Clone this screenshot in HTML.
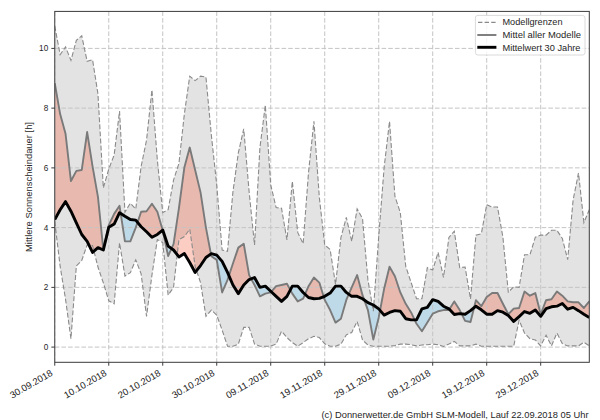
<!DOCTYPE html>
<html><head><meta charset="utf-8"><style>
html,body{margin:0;padding:0;background:#fff;width:600px;height:420px;overflow:hidden;}
svg{display:block;}
</style></head><body>
<svg width="600" height="420" viewBox="0 0 600 420"><rect x="0" y="0" width="600" height="420" fill="#ffffff"/><clipPath id="ax"><rect x="54.75" y="11.4" width="534.55" height="350.90000000000003"/></clipPath><g clip-path="url(#ax)"><polygon points="54.75,26.00 60.15,54.67 65.55,46.91 70.95,60.35 76.35,40.34 81.75,35.85 87.15,61.24 92.55,59.75 97.95,93.80 103.35,187.89 108.75,169.07 114.14,155.04 119.54,111.13 124.94,212.09 130.34,203.13 135.74,209.10 141.14,166.39 146.54,140.10 151.94,89.92 157.34,160.11 162.74,212.69 168.14,209.70 173.54,180.13 178.94,163.40 184.34,114.11 189.74,76.18 195.14,80.66 200.54,76.18 205.94,77.08 211.34,135.02 216.73,184.91 222.13,250.02 227.53,251.22 232.93,191.78 238.33,152.95 243.73,128.75 249.13,191.78 254.53,244.94 259.93,147.57 265.33,105.15 270.73,184.91 276.13,207.61 281.53,208.20 286.93,239.87 292.33,181.32 297.73,232.40 303.13,243.75 308.53,172.36 313.93,121.28 319.33,197.45 324.72,244.94 330.12,249.43 335.52,284.37 340.92,237.48 346.32,217.46 351.72,241.36 357.12,208.80 362.52,218.66 367.92,279.89 373.32,311.26 378.72,236.58 384.12,167.58 389.52,121.28 394.92,196.26 400.32,212.69 405.72,266.15 411.12,282.58 416.52,298.71 421.92,298.71 427.32,267.65 432.71,270.04 438.11,252.41 443.51,277.50 448.91,237.48 454.31,231.20 459.71,267.65 465.11,267.05 470.51,299.01 475.91,235.09 481.31,233.89 486.71,204.62 492.11,207.01 497.51,207.01 502.91,237.18 508.31,292.14 513.71,286.76 519.11,287.36 524.51,254.80 529.91,254.80 535.31,237.18 540.70,235.09 546.10,235.09 551.50,230.31 556.90,230.31 562.30,238.37 567.70,259.58 573.10,200.14 578.50,172.96 583.90,222.54 589.30,209.70 589.30,345.91 583.90,342.32 578.50,345.91 573.10,345.91 567.70,345.91 562.30,343.52 556.90,333.06 551.50,345.91 546.10,335.15 540.70,345.91 535.31,339.93 529.91,338.74 524.51,333.06 519.11,320.22 513.71,346.20 508.31,346.20 502.91,346.20 497.51,346.20 492.11,346.20 486.71,346.20 481.31,346.20 475.91,344.11 470.51,345.91 465.11,345.91 459.71,345.91 454.31,341.42 448.91,344.11 443.51,346.50 438.11,344.71 432.71,344.11 427.32,344.71 421.92,345.01 416.52,345.91 411.12,344.71 405.72,344.11 400.32,344.11 394.92,345.61 389.52,346.20 384.12,346.20 378.72,346.20 373.32,346.20 367.92,345.01 362.52,339.93 357.12,321.41 351.72,332.46 346.32,334.85 340.92,344.11 335.52,346.20 330.12,346.20 324.72,343.81 319.33,337.54 313.93,336.35 308.53,338.74 303.13,342.62 297.73,346.20 292.33,342.62 286.93,337.54 281.53,331.27 276.13,344.11 270.73,346.20 265.33,346.20 259.93,346.20 254.53,344.11 249.13,327.39 243.73,327.39 238.33,344.11 232.93,346.20 227.53,346.20 222.13,330.07 216.73,315.14 211.34,310.06 205.94,316.33 200.54,282.58 195.14,266.45 189.74,229.11 184.34,236.58 178.94,239.57 173.54,287.36 168.14,295.13 162.74,242.56 157.34,239.57 151.94,275.11 146.54,316.33 141.14,273.92 135.74,259.88 130.34,272.72 124.94,276.01 119.54,242.85 114.14,303.79 108.75,300.80 103.35,282.88 97.95,267.05 92.55,245.54 87.15,244.94 81.75,260.48 76.35,265.85 70.95,338.74 65.55,299.31 60.15,266.45 54.75,221.35" fill="#e3e3e3" stroke="none"/><polygon points="54.75,83.05 60.15,114.11 65.55,133.83 70.95,181.02 76.35,170.87 81.75,169.97 87.15,132.04 92.55,166.39 97.95,196.85 103.35,250.02 108.75,225.23 114.14,213.88 119.54,205.81 120.70,213.46 120.70,213.46 119.54,212.69 114.14,224.04 108.75,227.32 103.35,250.02 97.95,247.63 92.55,252.41 87.15,241.36 81.75,234.49 76.35,222.84 70.95,211.19 65.55,201.63 60.15,209.70 54.75,219.56" fill="rgb(246,89,56)" fill-opacity="0.3" stroke="none"/><polygon points="137.54,222.34 141.14,211.79 146.54,211.19 151.94,203.72 157.34,211.79 162.60,230.12 162.60,230.12 157.34,234.49 151.94,237.18 146.54,231.80 141.14,226.72 137.54,222.34" fill="rgb(246,89,56)" fill-opacity="0.3" stroke="none"/><polygon points="171.50,248.56 173.54,244.05 178.94,208.20 184.34,167.58 189.74,147.57 195.14,169.97 200.54,192.37 205.94,227.62 210.89,253.93 210.89,253.93 205.94,257.49 200.54,265.55 195.14,272.43 189.74,262.57 184.34,253.61 178.94,256.89 173.54,250.02 171.50,248.56" fill="rgb(246,89,56)" fill-opacity="0.3" stroke="none"/><polygon points="228.93,275.66 232.93,263.46 238.33,247.63 243.73,243.75 249.13,275.11 251.16,278.81 251.16,278.81 249.13,279.59 243.73,284.97 238.33,293.63 232.93,284.97 228.93,275.66" fill="rgb(246,89,56)" fill-opacity="0.3" stroke="none"/><polygon points="271.30,291.78 276.13,286.17 281.53,284.97 286.93,283.78 290.31,289.95 290.31,289.95 286.93,296.32 281.53,301.40 276.13,296.32 271.30,291.78" fill="rgb(246,89,56)" fill-opacity="0.3" stroke="none"/><polygon points="305.05,294.25 308.53,286.17 313.93,277.50 319.33,282.58 323.73,296.71 323.73,296.71 319.33,298.41 313.93,298.71 308.53,297.52 305.05,294.25" fill="rgb(246,89,56)" fill-opacity="0.3" stroke="none"/><polygon points="348.78,294.20 351.72,287.36 357.12,275.11 362.52,295.13 364.27,299.97 364.27,299.97 362.52,298.71 357.12,296.32 351.72,296.32 348.78,294.20" fill="rgb(246,89,56)" fill-opacity="0.3" stroke="none"/><polygon points="380.06,310.42 384.12,288.85 389.52,266.75 394.92,276.31 400.32,292.44 405.72,303.79 411.12,312.45 414.67,319.92 414.67,319.92 411.12,319.92 405.72,318.72 400.32,311.26 394.92,310.66 389.52,312.45 384.12,315.14 380.06,310.42" fill="rgb(246,89,56)" fill-opacity="0.3" stroke="none"/><polygon points="449.36,309.34 454.31,301.40 459.71,310.06 461.62,313.86 461.62,313.86 459.71,313.65 454.31,314.54 449.36,309.34" fill="rgb(246,89,56)" fill-opacity="0.3" stroke="none"/><polygon points="474.05,307.72 475.91,300.20 481.31,306.18 486.71,296.92 492.11,293.04 497.51,293.04 502.91,303.79 508.31,314.24 513.71,308.57 519.11,307.97 524.51,291.54 529.91,295.72 535.31,293.04 540.70,314.24 546.10,300.20 551.50,299.31 556.90,291.54 562.30,295.72 567.70,301.40 573.10,302.30 578.50,302.30 583.90,307.97 589.30,301.40 589.30,317.53 583.90,314.24 578.50,310.66 573.10,307.37 567.70,309.17 562.30,303.49 556.90,306.18 551.50,306.78 546.10,308.57 540.70,316.33 535.31,310.06 529.91,313.35 524.51,311.55 519.11,316.63 513.71,321.41 508.31,315.44 502.91,312.15 497.51,310.66 492.11,314.24 486.71,314.24 481.31,309.76 475.91,306.18 474.05,307.72" fill="rgb(246,89,56)" fill-opacity="0.3" stroke="none"/><polygon points="103.35,250.02 103.35,250.02 103.35,250.02 103.35,250.02 103.35,250.02 103.35,250.02" fill="rgb(106,199,246)" fill-opacity="0.3" stroke="none"/><polygon points="120.70,213.46 124.94,241.36 130.34,241.36 135.74,227.62 137.54,222.34 137.54,222.34 135.74,220.15 130.34,219.56 124.94,216.27 120.70,213.46" fill="rgb(106,199,246)" fill-opacity="0.3" stroke="none"/><polygon points="162.60,230.12 162.74,230.61 168.14,256.00 171.50,248.56 171.50,248.56 168.14,246.14 162.74,230.01 162.60,230.12" fill="rgb(106,199,246)" fill-opacity="0.3" stroke="none"/><polygon points="210.89,253.93 211.34,256.30 216.73,259.88 222.13,292.44 227.53,279.89 228.93,275.66 228.93,275.66 227.53,272.43 222.13,261.37 216.73,255.10 211.34,253.61 210.89,253.93" fill="rgb(106,199,246)" fill-opacity="0.3" stroke="none"/><polygon points="251.16,278.81 254.53,284.97 259.93,296.32 265.33,293.63 270.73,292.44 271.30,291.78 271.30,291.78 270.73,291.24 265.33,286.17 259.93,287.36 254.53,277.50 251.16,278.81" fill="rgb(106,199,246)" fill-opacity="0.3" stroke="none"/><polygon points="290.31,289.95 292.33,293.63 297.73,301.40 303.13,298.71 305.05,294.25 305.05,294.25 303.13,292.44 297.73,286.17 292.33,286.17 290.31,289.95" fill="rgb(106,199,246)" fill-opacity="0.3" stroke="none"/><polygon points="323.73,296.71 324.72,299.91 330.12,310.06 335.52,322.61 340.92,318.72 346.32,299.91 348.78,294.20 348.78,294.20 346.32,292.44 340.92,286.17 335.52,286.17 330.12,293.04 324.72,296.32 323.73,296.71" fill="rgb(106,199,246)" fill-opacity="0.3" stroke="none"/><polygon points="364.27,299.97 367.92,310.06 373.32,339.63 378.72,317.53 380.06,310.42 380.06,310.42 378.72,308.87 373.32,304.98 367.92,302.59 364.27,299.97" fill="rgb(106,199,246)" fill-opacity="0.3" stroke="none"/><polygon points="414.67,319.92 416.52,323.80 421.92,331.27 427.32,322.61 432.71,313.65 438.11,311.26 443.51,310.06 448.91,310.06 449.36,309.34 449.36,309.34 448.91,308.87 443.51,306.18 438.11,301.40 432.71,299.61 427.32,307.37 421.92,308.87 416.52,319.92 414.67,319.92" fill="rgb(106,199,246)" fill-opacity="0.3" stroke="none"/><polygon points="461.62,313.86 465.11,320.81 470.51,322.01 474.05,307.72 474.05,307.72 470.51,310.66 465.11,314.24 461.62,313.86" fill="rgb(106,199,246)" fill-opacity="0.3" stroke="none"/><g stroke="#c4c4c4" stroke-width="1" stroke-dasharray="4.6,2.07"><line x1="54.75" y1="11.4" x2="54.75" y2="362.3"/><line x1="108.75" y1="11.4" x2="108.75" y2="362.3"/><line x1="162.74" y1="11.4" x2="162.74" y2="362.3"/><line x1="216.73" y1="11.4" x2="216.73" y2="362.3"/><line x1="270.73" y1="11.4" x2="270.73" y2="362.3"/><line x1="324.72" y1="11.4" x2="324.72" y2="362.3"/><line x1="378.72" y1="11.4" x2="378.72" y2="362.3"/><line x1="432.71" y1="11.4" x2="432.71" y2="362.3"/><line x1="486.71" y1="11.4" x2="486.71" y2="362.3"/><line x1="540.70" y1="11.4" x2="540.70" y2="362.3"/><line x1="54.75" y1="347.10" x2="589.3" y2="347.10"/><line x1="54.75" y1="287.36" x2="589.3" y2="287.36"/><line x1="54.75" y1="227.62" x2="589.3" y2="227.62"/><line x1="54.75" y1="167.88" x2="589.3" y2="167.88"/><line x1="54.75" y1="108.14" x2="589.3" y2="108.14"/><line x1="54.75" y1="48.40" x2="589.3" y2="48.40"/></g><polyline points="54.75,26.00 60.15,54.67 65.55,46.91 70.95,60.35 76.35,40.34 81.75,35.85 87.15,61.24 92.55,59.75 97.95,93.80 103.35,187.89 108.75,169.07 114.14,155.04 119.54,111.13 124.94,212.09 130.34,203.13 135.74,209.10 141.14,166.39 146.54,140.10 151.94,89.92 157.34,160.11 162.74,212.69 168.14,209.70 173.54,180.13 178.94,163.40 184.34,114.11 189.74,76.18 195.14,80.66 200.54,76.18 205.94,77.08 211.34,135.02 216.73,184.91 222.13,250.02 227.53,251.22 232.93,191.78 238.33,152.95 243.73,128.75 249.13,191.78 254.53,244.94 259.93,147.57 265.33,105.15 270.73,184.91 276.13,207.61 281.53,208.20 286.93,239.87 292.33,181.32 297.73,232.40 303.13,243.75 308.53,172.36 313.93,121.28 319.33,197.45 324.72,244.94 330.12,249.43 335.52,284.37 340.92,237.48 346.32,217.46 351.72,241.36 357.12,208.80 362.52,218.66 367.92,279.89 373.32,311.26 378.72,236.58 384.12,167.58 389.52,121.28 394.92,196.26 400.32,212.69 405.72,266.15 411.12,282.58 416.52,298.71 421.92,298.71 427.32,267.65 432.71,270.04 438.11,252.41 443.51,277.50 448.91,237.48 454.31,231.20 459.71,267.65 465.11,267.05 470.51,299.01 475.91,235.09 481.31,233.89 486.71,204.62 492.11,207.01 497.51,207.01 502.91,237.18 508.31,292.14 513.71,286.76 519.11,287.36 524.51,254.80 529.91,254.80 535.31,237.18 540.70,235.09 546.10,235.09 551.50,230.31 556.90,230.31 562.30,238.37 567.70,259.58 573.10,200.14 578.50,172.96 583.90,222.54 589.30,209.70" fill="none" stroke="#8a8a8a" stroke-width="1.1" stroke-dasharray="4.9,2.2"/><polyline points="54.75,221.35 60.15,266.45 65.55,299.31 70.95,338.74 76.35,265.85 81.75,260.48 87.15,244.94 92.55,245.54 97.95,267.05 103.35,282.88 108.75,300.80 114.14,303.79 119.54,242.85 124.94,276.01 130.34,272.72 135.74,259.88 141.14,273.92 146.54,316.33 151.94,275.11 157.34,239.57 162.74,242.56 168.14,295.13 173.54,287.36 178.94,239.57 184.34,236.58 189.74,229.11 195.14,266.45 200.54,282.58 205.94,316.33 211.34,310.06 216.73,315.14 222.13,330.07 227.53,346.20 232.93,346.20 238.33,344.11 243.73,327.39 249.13,327.39 254.53,344.11 259.93,346.20 265.33,346.20 270.73,346.20 276.13,344.11 281.53,331.27 286.93,337.54 292.33,342.62 297.73,346.20 303.13,342.62 308.53,338.74 313.93,336.35 319.33,337.54 324.72,343.81 330.12,346.20 335.52,346.20 340.92,344.11 346.32,334.85 351.72,332.46 357.12,321.41 362.52,339.93 367.92,345.01 373.32,346.20 378.72,346.20 384.12,346.20 389.52,346.20 394.92,345.61 400.32,344.11 405.72,344.11 411.12,344.71 416.52,345.91 421.92,345.01 427.32,344.71 432.71,344.11 438.11,344.71 443.51,346.50 448.91,344.11 454.31,341.42 459.71,345.91 465.11,345.91 470.51,345.91 475.91,344.11 481.31,346.20 486.71,346.20 492.11,346.20 497.51,346.20 502.91,346.20 508.31,346.20 513.71,346.20 519.11,320.22 524.51,333.06 529.91,338.74 535.31,339.93 540.70,345.91 546.10,335.15 551.50,345.91 556.90,333.06 562.30,343.52 567.70,345.91 573.10,345.91 578.50,345.91 583.90,342.32 589.30,345.91" fill="none" stroke="#8a8a8a" stroke-width="1.1" stroke-dasharray="4.9,2.2"/><polyline points="54.75,83.05 60.15,114.11 65.55,133.83 70.95,181.02 76.35,170.87 81.75,169.97 87.15,132.04 92.55,166.39 97.95,196.85 103.35,250.02 108.75,225.23 114.14,213.88 119.54,205.81 124.94,241.36 130.34,241.36 135.74,227.62 141.14,211.79 146.54,211.19 151.94,203.72 157.34,211.79 162.74,230.61 168.14,256.00 173.54,244.05 178.94,208.20 184.34,167.58 189.74,147.57 195.14,169.97 200.54,192.37 205.94,227.62 211.34,256.30 216.73,259.88 222.13,292.44 227.53,279.89 232.93,263.46 238.33,247.63 243.73,243.75 249.13,275.11 254.53,284.97 259.93,296.32 265.33,293.63 270.73,292.44 276.13,286.17 281.53,284.97 286.93,283.78 292.33,293.63 297.73,301.40 303.13,298.71 308.53,286.17 313.93,277.50 319.33,282.58 324.72,299.91 330.12,310.06 335.52,322.61 340.92,318.72 346.32,299.91 351.72,287.36 357.12,275.11 362.52,295.13 367.92,310.06 373.32,339.63 378.72,317.53 384.12,288.85 389.52,266.75 394.92,276.31 400.32,292.44 405.72,303.79 411.12,312.45 416.52,323.80 421.92,331.27 427.32,322.61 432.71,313.65 438.11,311.26 443.51,310.06 448.91,310.06 454.31,301.40 459.71,310.06 465.11,320.81 470.51,322.01 475.91,300.20 481.31,306.18 486.71,296.92 492.11,293.04 497.51,293.04 502.91,303.79 508.31,314.24 513.71,308.57 519.11,307.97 524.51,291.54 529.91,295.72 535.31,293.04 540.70,314.24 546.10,300.20 551.50,299.31 556.90,291.54 562.30,295.72 567.70,301.40 573.10,302.30 578.50,302.30 583.90,307.97 589.30,301.40" fill="none" stroke="#7a7a7a" stroke-width="1.9" stroke-linejoin="round"/><polyline points="54.75,219.56 60.15,209.70 65.55,201.63 70.95,211.19 76.35,222.84 81.75,234.49 87.15,241.36 92.55,252.41 97.95,247.63 103.35,250.02 108.75,227.32 114.14,224.04 119.54,212.69 124.94,216.27 130.34,219.56 135.74,220.15 141.14,226.72 146.54,231.80 151.94,237.18 157.34,234.49 162.74,230.01 168.14,246.14 173.54,250.02 178.94,256.89 184.34,253.61 189.74,262.57 195.14,272.43 200.54,265.55 205.94,257.49 211.34,253.61 216.73,255.10 222.13,261.37 227.53,272.43 232.93,284.97 238.33,293.63 243.73,284.97 249.13,279.59 254.53,277.50 259.93,287.36 265.33,286.17 270.73,291.24 276.13,296.32 281.53,301.40 286.93,296.32 292.33,286.17 297.73,286.17 303.13,292.44 308.53,297.52 313.93,298.71 319.33,298.41 324.72,296.32 330.12,293.04 335.52,286.17 340.92,286.17 346.32,292.44 351.72,296.32 357.12,296.32 362.52,298.71 367.92,302.59 373.32,304.98 378.72,308.87 384.12,315.14 389.52,312.45 394.92,310.66 400.32,311.26 405.72,318.72 411.12,319.92 416.52,319.92 421.92,308.87 427.32,307.37 432.71,299.61 438.11,301.40 443.51,306.18 448.91,308.87 454.31,314.54 459.71,313.65 465.11,314.24 470.51,310.66 475.91,306.18 481.31,309.76 486.71,314.24 492.11,314.24 497.51,310.66 502.91,312.15 508.31,315.44 513.71,321.41 519.11,316.63 524.51,311.55 529.91,313.35 535.31,310.06 540.70,316.33 546.10,308.57 551.50,306.78 556.90,306.18 562.30,303.49 567.70,309.17 573.10,307.37 578.50,310.66 583.90,314.24 589.30,317.53" fill="none" stroke="#000000" stroke-width="2.9" stroke-linejoin="round"/></g><rect x="54.75" y="11.4" width="534.55" height="350.90000000000003" fill="none" stroke="#3a3a3a" stroke-width="1"/><g stroke="#3a3a3a" stroke-width="1"><line x1="51.35" y1="347.10" x2="54.75" y2="347.10"/><line x1="51.35" y1="287.36" x2="54.75" y2="287.36"/><line x1="51.35" y1="227.62" x2="54.75" y2="227.62"/><line x1="51.35" y1="167.88" x2="54.75" y2="167.88"/><line x1="51.35" y1="108.14" x2="54.75" y2="108.14"/><line x1="51.35" y1="48.40" x2="54.75" y2="48.40"/><line x1="54.75" y1="362.3" x2="54.75" y2="365.7"/><line x1="108.75" y1="362.3" x2="108.75" y2="365.7"/><line x1="162.74" y1="362.3" x2="162.74" y2="365.7"/><line x1="216.73" y1="362.3" x2="216.73" y2="365.7"/><line x1="270.73" y1="362.3" x2="270.73" y2="365.7"/><line x1="324.72" y1="362.3" x2="324.72" y2="365.7"/><line x1="378.72" y1="362.3" x2="378.72" y2="365.7"/><line x1="432.71" y1="362.3" x2="432.71" y2="365.7"/><line x1="486.71" y1="362.3" x2="486.71" y2="365.7"/><line x1="540.70" y1="362.3" x2="540.70" y2="365.7"/></g><text x="48.2" y="350.00" font-family="Liberation Sans, sans-serif" stroke="#262626" stroke-width="0" font-size="8.2" fill="#262626" text-anchor="end">0</text><text x="48.2" y="290.26" font-family="Liberation Sans, sans-serif" stroke="#262626" stroke-width="0" font-size="8.2" fill="#262626" text-anchor="end">2</text><text x="48.2" y="230.52" font-family="Liberation Sans, sans-serif" stroke="#262626" stroke-width="0" font-size="8.2" fill="#262626" text-anchor="end">4</text><text x="48.2" y="170.78" font-family="Liberation Sans, sans-serif" stroke="#262626" stroke-width="0" font-size="8.2" fill="#262626" text-anchor="end">6</text><text x="48.2" y="111.04" font-family="Liberation Sans, sans-serif" stroke="#262626" stroke-width="0" font-size="8.2" fill="#262626" text-anchor="end">8</text><text x="48.2" y="51.30" font-family="Liberation Sans, sans-serif" stroke="#262626" stroke-width="0" font-size="8.2" fill="#262626" text-anchor="end">10</text><text transform="translate(32.3,187) rotate(-90)" font-family="Liberation Sans, sans-serif" stroke="#262626" stroke-width="0" font-size="8.7" fill="#262626" text-anchor="middle" textLength="130" lengthAdjust="spacingAndGlyphs">Mittlere Sonnenscheindauer [h]</text><text transform="translate(53.30,374.90) rotate(-30)" font-family="Liberation Sans, sans-serif" stroke="#262626" stroke-width="0" font-size="9.4" fill="#1e1e1e" text-anchor="end" textLength="47.5" lengthAdjust="spacingAndGlyphs">30.09.2018</text><text transform="translate(107.30,374.90) rotate(-30)" font-family="Liberation Sans, sans-serif" stroke="#262626" stroke-width="0" font-size="9.4" fill="#1e1e1e" text-anchor="end" textLength="47.5" lengthAdjust="spacingAndGlyphs">10.10.2018</text><text transform="translate(161.29,374.90) rotate(-30)" font-family="Liberation Sans, sans-serif" stroke="#262626" stroke-width="0" font-size="9.4" fill="#1e1e1e" text-anchor="end" textLength="47.5" lengthAdjust="spacingAndGlyphs">20.10.2018</text><text transform="translate(215.28,374.90) rotate(-30)" font-family="Liberation Sans, sans-serif" stroke="#262626" stroke-width="0" font-size="9.4" fill="#1e1e1e" text-anchor="end" textLength="47.5" lengthAdjust="spacingAndGlyphs">30.10.2018</text><text transform="translate(269.28,374.90) rotate(-30)" font-family="Liberation Sans, sans-serif" stroke="#262626" stroke-width="0" font-size="9.4" fill="#1e1e1e" text-anchor="end" textLength="47.5" lengthAdjust="spacingAndGlyphs">09.11.2018</text><text transform="translate(323.27,374.90) rotate(-30)" font-family="Liberation Sans, sans-serif" stroke="#262626" stroke-width="0" font-size="9.4" fill="#1e1e1e" text-anchor="end" textLength="47.5" lengthAdjust="spacingAndGlyphs">19.11.2018</text><text transform="translate(377.27,374.90) rotate(-30)" font-family="Liberation Sans, sans-serif" stroke="#262626" stroke-width="0" font-size="9.4" fill="#1e1e1e" text-anchor="end" textLength="47.5" lengthAdjust="spacingAndGlyphs">29.11.2018</text><text transform="translate(431.26,374.90) rotate(-30)" font-family="Liberation Sans, sans-serif" stroke="#262626" stroke-width="0" font-size="9.4" fill="#1e1e1e" text-anchor="end" textLength="47.5" lengthAdjust="spacingAndGlyphs">09.12.2018</text><text transform="translate(485.26,374.90) rotate(-30)" font-family="Liberation Sans, sans-serif" stroke="#262626" stroke-width="0" font-size="9.4" fill="#1e1e1e" text-anchor="end" textLength="47.5" lengthAdjust="spacingAndGlyphs">19.12.2018</text><text transform="translate(539.25,374.90) rotate(-30)" font-family="Liberation Sans, sans-serif" stroke="#262626" stroke-width="0" font-size="9.4" fill="#1e1e1e" text-anchor="end" textLength="47.5" lengthAdjust="spacingAndGlyphs">29.12.2018</text><rect x="475.4" y="15.4" width="109.6" height="39.6" rx="2.5" ry="2.5" fill="#ffffff" fill-opacity="0.8" stroke="#dadada" stroke-width="1"/><line x1="478" y1="22.4" x2="495.6" y2="22.4" stroke="#8a8a8a" stroke-width="1.1" stroke-dasharray="4.4,2.2"/><line x1="477.3" y1="35" x2="496.4" y2="35" stroke="#7a7a7a" stroke-width="1.9"/><line x1="477.3" y1="47.3" x2="496.4" y2="47.3" stroke="#000000" stroke-width="2.9"/><text x="502.5" y="24.8" font-family="Liberation Sans, sans-serif" stroke="#262626" stroke-width="0" font-size="8.7" fill="#262626" textLength="60" lengthAdjust="spacingAndGlyphs">Modellgrenzen</text><text x="502.5" y="37.6" font-family="Liberation Sans, sans-serif" stroke="#262626" stroke-width="0" font-size="8.7" fill="#262626" textLength="78.5" lengthAdjust="spacingAndGlyphs">Mittel aller Modelle</text><text x="502.5" y="50.5" font-family="Liberation Sans, sans-serif" stroke="#262626" stroke-width="0" font-size="8.7" fill="#262626" textLength="78" lengthAdjust="spacingAndGlyphs">Mittelwert 30 Jahre</text><text x="321.5" y="418" font-family="Liberation Sans, sans-serif" stroke="#262626" stroke-width="0" font-size="9.0" fill="#262626" textLength="267" lengthAdjust="spacingAndGlyphs">(c) Donnerwetter.de GmbH SLM-Modell, Lauf 22.09.2018 05 Uhr</text></svg>
</body></html>
